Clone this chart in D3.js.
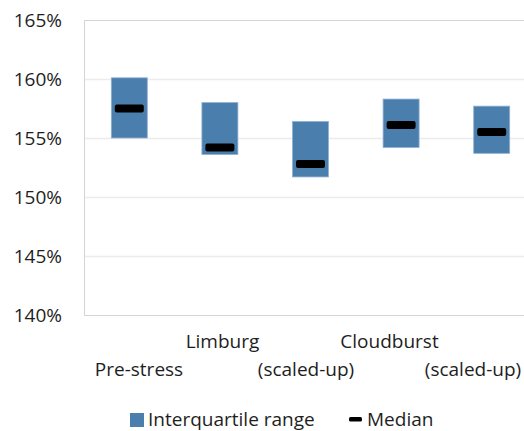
<!DOCTYPE html>
<html>
<head>
<meta charset="utf-8">
<script src="https://cdn.jsdelivr.net/npm/d3@7"></script>
<style>
  html, body { margin: 0; padding: 0; background: #fff; overflow: hidden; }
  svg { display: block; font-family: "Open Sans", "Noto Sans", sans-serif; }
</style>
</head>
<body>
<svg id="chart" width="524" height="431"></svg>
<script>
// Scenario categories and their interquartile ranges / medians (ratio, %)
const categories = ["Pre-stress", "Limburg", "Limburg (scaled-up)", "Cloudburst", "Cloudburst (scaled-up)"];
const axisLabels = ["Pre-stress", "Limburg", "(scaled-up)", "Cloudburst", "(scaled-up)"];
const q1Values = [155.0, 153.6, 151.7, 154.2, 153.7];
const q3Values = [160.1, 158.0, 156.4, 158.3, 157.7];
const medianValues = [157.5, 154.2, 152.8, 156.1, 155.5];
const yTicks = [140, 145, 150, 155, 160, 165];

const svg = d3.select("#chart");
const plot = { left: 84, top: 20, bottom: 315, right: 537 };

const x = d3.scaleBand().domain(categories).range([plot.left, plot.right]).paddingInner(0.6).paddingOuter(0.3);
const y = d3.scaleLinear().domain([140, 165]).range([plot.bottom, plot.top]);
// staggered label positions along the category axis
const xLabel = d3.scalePoint().domain(categories).range([139, 473]);

// gridlines
svg.append("g").selectAll("line").data(yTicks.slice(1, -1)).join("line")
  .attr("x1", plot.left).attr("x2", plot.right)
  .attr("y1", d => y(d) + 0.5).attr("y2", d => y(d) + 0.5)
  .attr("stroke", "#ececec").attr("stroke-width", 1.3);

// plot frame
svg.append("rect")
  .attr("x", plot.left + 0.5).attr("y", plot.top + 0.5)
  .attr("width", plot.right - plot.left).attr("height", plot.bottom - plot.top)
  .attr("fill", "none").attr("stroke", "#d4d4d4").attr("stroke-width", 1);

// y axis labels
const yAxis = d3.axisLeft(y).tickValues(yTicks).tickFormat(d => d + "%").tickSize(0).tickPadding(22);
const gy = svg.append("g").attr("transform", `translate(${plot.left},0)`).call(yAxis);
gy.select(".domain").remove();
gy.selectAll("text").attr("font-size", 19).attr("fill", "#1e1e1e").attr("font-family", "'Open Sans', sans-serif");

// interquartile boxes
const boxW = 36;
svg.append("g").selectAll("rect").data(categories).join("rect")
  .attr("x", d => x(d) + x.bandwidth() / 2 - boxW / 2)
  .attr("y", (d, i) => y(q3Values[i]))
  .attr("width", boxW)
  .attr("height", (d, i) => y(q1Values[i]) - y(q3Values[i]))
  .attr("fill", "#4a7fad")
  .attr("stroke", "#8fb1d2").attr("stroke-width", 0.8);

// median markers
const medW = 29, medH = 8;
svg.append("g").selectAll("rect").data(categories).join("rect")
  .attr("x", d => x(d) + x.bandwidth() / 2 - medW / 2)
  .attr("y", (d, i) => y(medianValues[i]) - medH / 2)
  .attr("width", medW).attr("height", medH)
  .attr("rx", 2).attr("fill", "#000");

// category labels, staggered on two rows
svg.append("g").selectAll("text").data(categories).join("text")
  .attr("x", d => xLabel(d))
  .attr("y", (d, i) => i % 2 === 1 ? 348 : 376)
  .attr("text-anchor", "middle")
  .attr("font-size", 19).attr("fill", "#1e1e1e")
  .text((d, i) => axisLabels[i]);

// legend
const lg = svg.append("g");
lg.append("rect").attr("x", 130).attr("y", 413).attr("width", 14).attr("height", 14).attr("fill", "#4a7fad");
lg.append("text").attr("x", 148).attr("y", 425.5).attr("font-size", 19).attr("fill", "#1e1e1e").text("Interquartile range");
lg.append("rect").attr("x", 349).attr("y", 417).attr("width", 13).attr("height", 4.5).attr("rx", 1.5).attr("fill", "#000");
lg.append("text").attr("x", 367).attr("y", 425.5).attr("font-size", 19).attr("fill", "#1e1e1e").text("Median");
</script>
</body>
</html>
